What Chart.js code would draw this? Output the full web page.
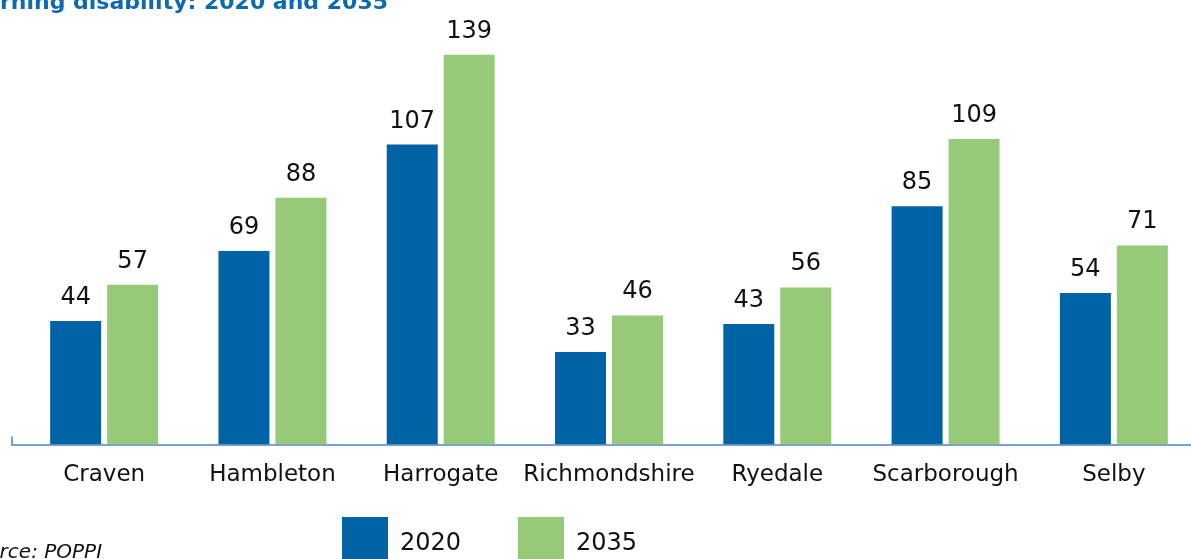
<!DOCTYPE html>
<html>
<head>
<meta charset="utf-8">
<script src="https://cdn.jsdelivr.net/npm/chart.js@4.4.1/dist/chart.umd.min.js"></script>
<style>
  html, body { margin: 0; padding: 0; width: 1191px; height: 559px; overflow: hidden; background: #fff; position: relative; }
  #wrap { position: absolute; left: 0; top: 0; width: 1200px; height: 559px; }
  .txt { position: absolute; white-space: nowrap; font-family: "DejaVu Sans", sans-serif; color: #111; }
  #title { right: 803px; top: -9px; font-size: 22px; line-height: 22px; font-weight: bold; color: #0E6AAE; }
  #source { left: -38px; top: 541px; font-size: 20px; line-height: 20px; font-style: italic; }
  .lbox { position: absolute; width: 46px; height: 46px; top: 517px; }
  .ltxt { position: absolute; top: 530px; font-size: 24px; line-height: 24px; }
</style>
</head>
<body>
<div id="wrap"><canvas id="c"></canvas></div>
<div class="txt" id="title">rning disability: 2020 and 2035</div>
<div class="txt" id="source">Source: POPPI</div>
<div class="lbox" style="left:342px;background:#0063A6"></div>
<div class="txt ltxt" style="left:400px">2020</div>
<div class="lbox" style="left:518px;background:#96CA78"></div>
<div class="txt ltxt" style="left:576px">2035</div>
<script>
const categories = ["Craven", "Hambleton", "Harrogate", "Richmondshire", "Ryedale", "Scarborough", "Selby"];
const values2020 = [44, 69, 107, 33, 43, 85, 54];
const values2035 = [57, 88, 139, 46, 56, 109, 71];
const seriesLabels = ["2020", "2035"];

const axisLine = {
  id: 'axisLine',
  beforeDatasetsDraw(chart) {
    const ctx = chart.ctx, y = chart.chartArea.bottom;
    ctx.save();
    ctx.strokeStyle = '#4F81BD';
    ctx.lineWidth = 1.5;
    ctx.beginPath();
    ctx.moveTo(12, y - 8);
    ctx.lineTo(12, y + 0.5);
    ctx.lineTo(1200, y + 0.5);
    ctx.stroke();
    ctx.restore();
  }
};
const valueLabels = {
  id: 'valueLabels',
  afterDatasetsDraw(chart) {
    const ctx = chart.ctx;
    ctx.save();
    ctx.font = '24px "DejaVu Sans"';
    ctx.fillStyle = '#111';
    ctx.textAlign = 'center';
    ctx.textBaseline = 'alphabetic';
    chart.data.datasets.forEach((ds, di) => {
      chart.getDatasetMeta(di).data.forEach((bar, i) => {
        ctx.fillText(String(ds.data[i]), bar.x, bar.y - 17);
      });
    });
    ctx.restore();
  }
};

new Chart(document.getElementById('c'), {
  type: 'bar',
  data: {
    labels: categories,
    datasets: [
      { label: seriesLabels[0], data: values2020, backgroundColor: '#0063A6' },
      { label: seriesLabels[1], data: values2035, backgroundColor: '#96CA78' }
    ]
  },
  options: {
    responsive: true,
    maintainAspectRatio: false,
    animation: false,
    layout: { padding: { left: 20, right: 2, top: 24, bottom: 53 } },
    datasets: { bar: { barPercentage: 0.895, categoryPercentage: 0.677 } },
    plugins: { legend: { display: false }, tooltip: { enabled: false } },
    scales: {
      y: { display: false, min: 0, max: 150 },
      x: {
        grid: { display: false, drawTicks: false },
        border: { display: false },
        ticks: { color: '#111', padding: 17, maxRotation: 0, minRotation: 0, autoSkip: false, font: { family: 'DejaVu Sans', size: 23 } }
      }
    }
  },
  plugins: [axisLine, valueLabels]
});
</script>
</body>
</html>
